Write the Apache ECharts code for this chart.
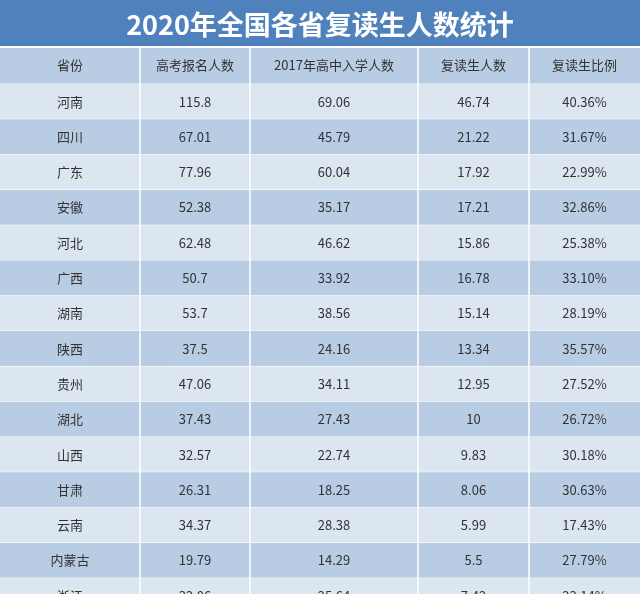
<!DOCTYPE html>
<html><head><meta charset="utf-8">
<script src="https://cdn.jsdelivr.net/npm/echarts@6/dist/echarts.min.js"></script>
<style>html,body{margin:0;padding:0;}#c{width:640px;height:594px;}</style>
</head><body><div id="c"></div>
<script>
const title = '2020年全国各省复读生人数统计';
const headers = ['省份','高考报名人数','2017年高中入学人数','复读生人数','复读生比例'];
const provinces = ['河南','四川','广东','安徽','河北','广西','湖南','陕西','贵州','湖北','山西','甘肃','云南','内蒙古','浙江'];
const applicants = ['115.8','67.01','77.96','52.38','62.48','50.7','53.7','37.5','47.06','37.43','32.57','26.31','34.37','19.79','32.06'];
const enroll2017 = ['69.06','45.79','60.04','35.17','46.62','33.92','38.56','24.16','34.11','27.43','22.74','18.25','28.38','14.29','25.64'];
const repeaters = ['46.74','21.22','17.92','17.21','15.86','16.78','15.14','13.34','12.95','10','9.83','8.06','5.99','5.5','7.42'];
const ratios = ['40.36%','31.67%','22.99%','32.86%','25.38%','33.10%','28.19%','35.57%','27.52%','26.72%','30.18%','30.63%','17.43%','27.79%','23.14%'];

const colEdges = [0,140,250,418,529,640];
const titleH = 47, headH = 37, rowH = 35.3;
const font = '"Microsoft YaHei","Noto Sans CJK SC",sans-serif';
const els = [];
els.push({type:'rect',shape:{x:0,y:0,width:640,height:titleH},style:{fill:'#4f81bd'}});
els.push({type:'text',x:320,y:titleH/2+1,style:{text:title,fill:'#fff',font:'bold 27px '+font,align:'center',verticalAlign:'middle'}});
function row(y,h,fill,cells,fs){
  els.push({type:'rect',shape:{x:0,y:y,width:640,height:h},style:{fill:fill}});
  for(let j=0;j<5;j++){
    els.push({type:'text',x:(colEdges[j]+colEdges[j+1])/2,y:y+h/2,style:{text:cells[j],fill:'#333',font:fs+'px '+font,align:'center',verticalAlign:'middle'}});
  }
  els.push({type:'line',shape:{x1:0,y1:y+h,x2:640,y2:y+h},style:{stroke:'#fff',lineWidth:1}});
}
row(titleH,headH,'#b8cce4',headers,13);
provinces.forEach((p,i)=>{
  row(titleH+headH+i*rowH,rowH,i%2===0?'#dce6f1':'#b8cce4',[p,applicants[i],enroll2017[i],repeaters[i],ratios[i]],13);
});
for(let j=1;j<5;j++) els.push({type:'line',shape:{x1:colEdges[j],y1:titleH,x2:colEdges[j],y2:594},style:{stroke:'#fff',lineWidth:1.5}});
els.push({type:'line',shape:{x1:0,y1:titleH,x2:640,y2:titleH},style:{stroke:'#fff',lineWidth:2}});
const chart = echarts.init(document.getElementById('c'));
chart.setOption({animation:false,graphic:{elements:els}});
</script></body></html>
